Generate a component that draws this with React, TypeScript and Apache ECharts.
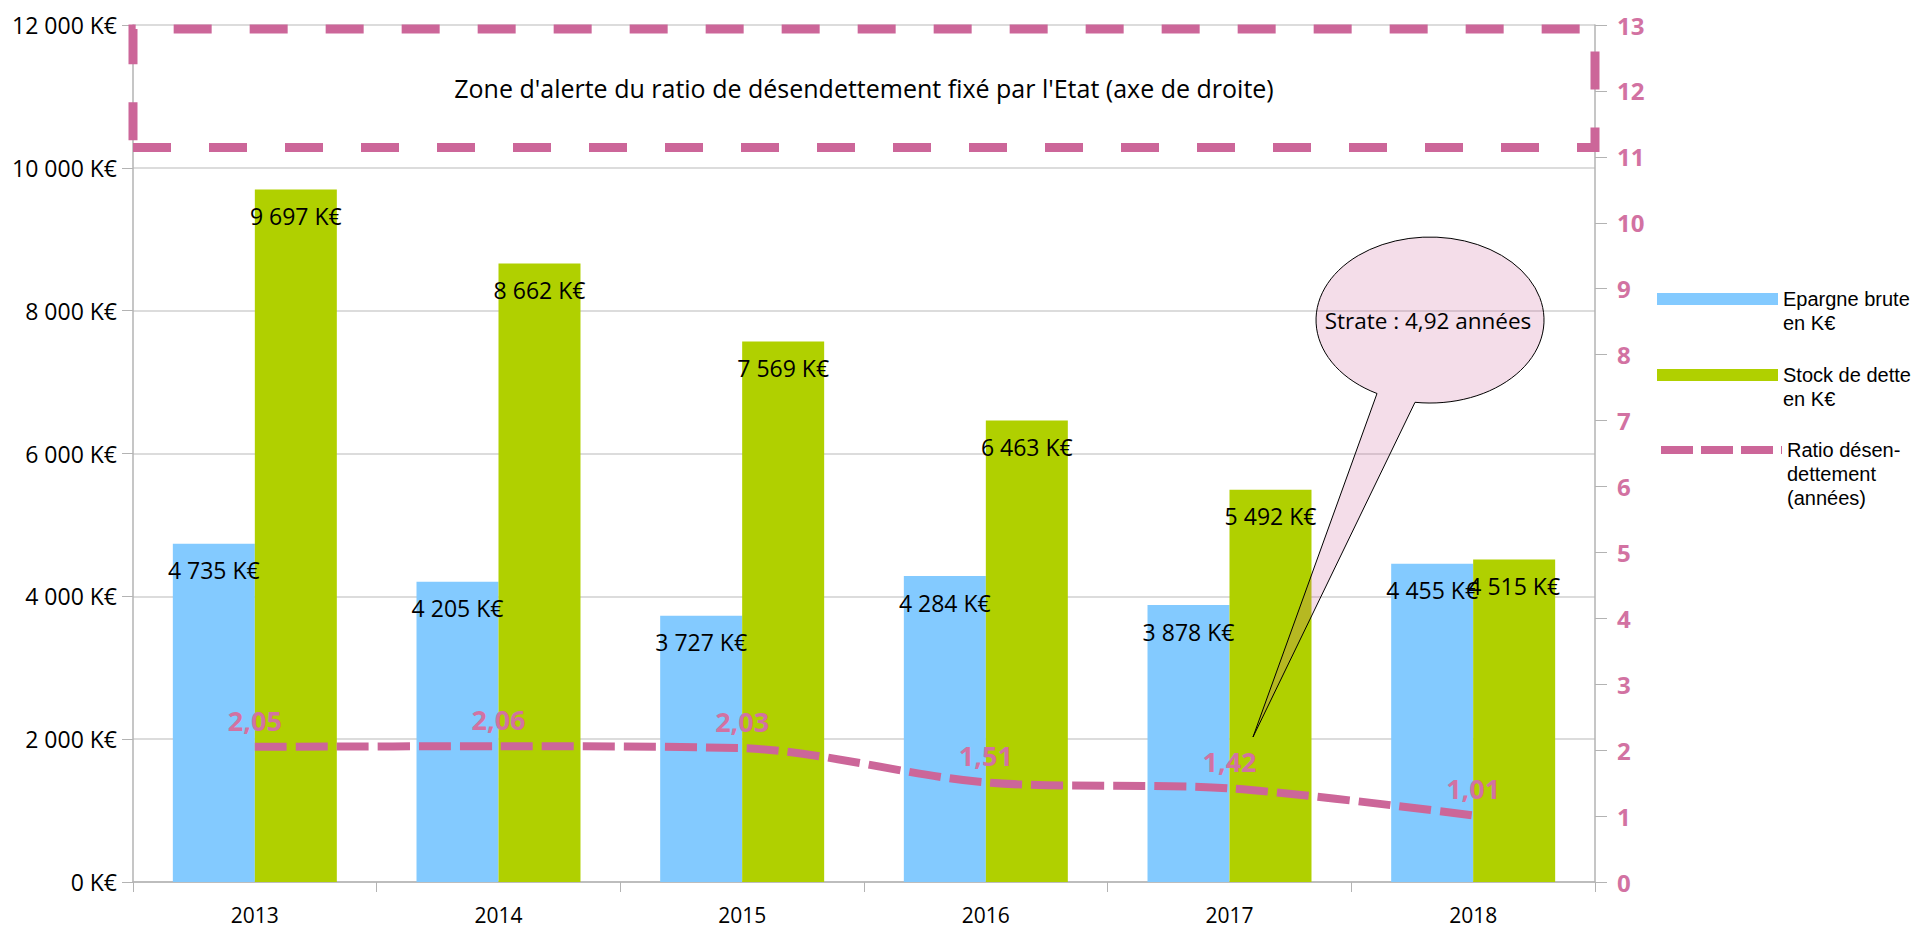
import React, { useEffect, useRef } from "react";
import * as echarts from "echarts";

const years = ["2013", "2014", "2015", "2016", "2017", "2018"];
const epargne = [4735, 4205, 3727, 4284, 3878, 4455];
const stock = [9697, 8662, 7569, 6463, 5492, 4515];
const ratio = [2.05, 2.06, 2.03, 1.51, 1.42, 1.01];
const alertZone = [11.14, 12.94];

const NAME_EP = "Epargne brute en K€";
const NAME_ST = "Stock de dette en K€";
const NAME_RA = "Ratio désendettement (années)";
const legendText: Record<string, string> = {
  [NAME_EP]: "\nEpargne brute\nen K€",
  [NAME_ST]: "\nStock de dette\nen K€",
  [NAME_RA]: "\n\nRatio désen-\ndettement\n(années)",
};

const BLUE = "#83caff";
const GREEN = "#b0d000";
const PINK = "#cc6699";
const PINK_LABEL = "#d272a2";
const FONT = "Open Sans";

const fmt = (v: number) => String(v).replace(/\B(?=(\d{3})+(?!\d))/g, " ");

// speech bubble outline: pointer then the long way round the ellipse (cx 1430, cy 320, rx 114, ry 83)
echarts.graphic.registerShape(
  "callout",
  echarts.graphic.extendPath("M 1377 393.5 L 1253 737 L 1415 402.3 A 114 83 0 1 0 1377 393.5 Z", {})
);

export default function App() {
  const ref = useRef<HTMLDivElement>(null);
  useEffect(() => {
    if (!ref.current) return;
    const chart = echarts.init(ref.current, null, { renderer: "svg" });
    const legendBase = {
      orient: "vertical" as const,
      left: 1657,
      padding: 0,
      itemWidth: 121,
      itemHeight: 12,
      selectedMode: false,
      formatter: (n: string) => legendText[n] || n,
      textStyle: { fontFamily: "Liberation Sans", fontSize: 20, lineHeight: 24, color: "#000" },
    };
    chart.setOption({
      animation: false,
      backgroundColor: "#ffffff",
      grid: { left: 133, right: 332, top: 25, bottom: 47, containLabel: false },
      legend: [
        { ...legendBase, top: 263, data: [{ name: NAME_EP, icon: "rect" }] },
        { ...legendBase, top: 339, data: [{ name: NAME_ST, icon: "rect" }] },
        {
          ...legendBase,
          top: 390,
          itemHeight: 8,
          data: [{ name: NAME_RA }],
          itemStyle: { opacity: 0 },
          lineStyle: { width: 8, type: [32, 8], color: PINK },
        },
      ],
      xAxis: {
        type: "category",
        data: years,
        boundaryGap: true,
        axisLine: { show: true, lineStyle: { color: "#b3b3b3", width: 1.5 } },
        axisTick: { show: true, length: 10, lineStyle: { color: "#b3b3b3" } },
        axisLabel: { color: "#000", fontFamily: FONT, fontSize: 21, margin: 22 },
      },
      yAxis: [
        {
          type: "value",
          min: 0,
          max: 12000,
          interval: 2000,
          axisLine: { show: true, lineStyle: { color: "#b3b3b3", width: 1.5 } },
          axisTick: { show: true, length: 11, lineStyle: { color: "#b3b3b3" } },
          splitLine: { show: true, lineStyle: { color: "#d0d0d0", width: 1.5 } },
          axisLabel: { color: "#000", fontFamily: FONT, fontSize: 23, margin: 16, formatter: (v: number) => fmt(v) + " K€" },
        },
        {
          type: "value",
          min: 0,
          max: 13,
          interval: 1,
          position: "right",
          axisLine: { show: true, lineStyle: { color: "#b3b3b3", width: 1.5 } },
          axisTick: { show: true, length: 12, lineStyle: { color: "#b3b3b3" } },
          splitLine: { show: false },
          axisLabel: { color: PINK_LABEL, fontFamily: FONT, fontWeight: "bold", fontSize: 24, margin: 22 },
        },
      ],
      series: [
        {
          name: NAME_EP,
          type: "bar",
          data: epargne,
          barGap: "0%",
          barCategoryGap: "32.7%",
          itemStyle: { color: BLUE },
          label: {
            show: true,
            position: "insideTop",
            distance: 15,
            color: "#000",
            fontFamily: FONT,
            fontSize: 23,
            formatter: (p: any) => fmt(p.value) + " K€",
          },
        },
        {
          name: NAME_ST,
          type: "bar",
          data: stock,
          barGap: "0%",
          barCategoryGap: "32.7%",
          itemStyle: { color: GREEN },
          label: {
            show: true,
            position: "insideTop",
            distance: 15,
            color: "#000",
            fontFamily: FONT,
            fontSize: 23,
            formatter: (p: any) => fmt(p.value) + " K€",
          },
        },
        {
          name: NAME_RA,
          type: "line",
          yAxisIndex: 1,
          data: ratio,
          smooth: 0.3,
          symbol: "circle",
          symbolSize: 0,
          showSymbol: true,
          z: 5,
          lineStyle: { width: 8, type: [32, 9], color: PINK, cap: "butt" },
          itemStyle: { color: PINK },
          label: {
            show: true,
            position: "top",
            distance: 13,
            color: PINK_LABEL,
            fontFamily: FONT,
            fontWeight: "bold",
            fontSize: 27,
            formatter: (p: any) => Number(p.value).toFixed(2).replace(".", ","),
          },
          markArea: {
            silent: true,
            itemStyle: {
              color: "rgba(0,0,0,0)",
              borderColor: PINK,
              borderWidth: 9,
              borderType: [38, 38],
            },
            label: {
              show: true,
              position: "inside",
              color: "#000",
              fontFamily: FONT,
              fontSize: 25,
            },
            data: [
              [
                { yAxis: alertZone[0], name: "Zone d'alerte du ratio de désendettement fixé par l'Etat (axe de droite)" },
                { yAxis: alertZone[1] },
              ],
            ],
          },
        },
      ],
      graphic: [
        {
          type: "callout",
          z: 100,
          x: 0,
          y: 0,
          style: { fill: "rgba(204,102,153,0.22)", stroke: "#000", lineWidth: 1 },
        },
        {
          type: "text",
          z: 103,
          x: 1428,
          y: 320,
          style: {
            text: "Strate : 4,92 années",
            fontFamily: FONT,
            fontSize: 22.5,
            fill: "#000",
            align: "center",
            verticalAlign: "middle",
          },
        },
      ],
    });
    return () => chart.dispose();
  }, []);
  return (
    <div
      ref={ref}
      style={{ position: "fixed", left: 0, top: 0, width: "1927px", height: "929px", background: "#fff" }}
    />
  );
}
